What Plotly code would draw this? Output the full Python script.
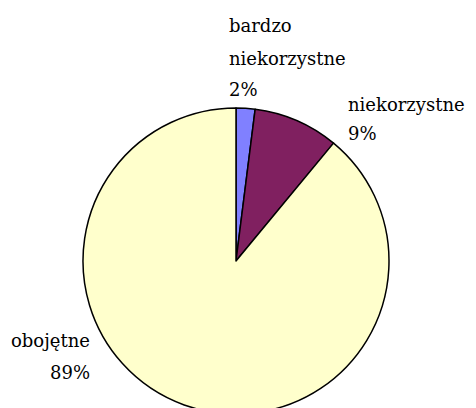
import plotly.graph_objects as go

# data
labels = ["bardzo niekorzystne", "niekorzystne", "obojętne"]
values = [2, 9, 89]
colors = ["#8080FF", "#802060", "#FFFFCC"]

W, H = 476, 408
OFF = 8  # page body margin
total = sum(values)
pct = [f"{v / total * 100:.0f}%" for v in values]

fig = go.Figure(go.Pie(
    labels=labels,
    values=values,
    sort=False,
    direction="clockwise",
    rotation=0,
    textinfo="none",
    hoverinfo="label+percent",
    marker=dict(colors=colors, line=dict(color="black", width=1.5)),
    domain=dict(x=[(83 - OFF) / W, (389 - OFF) / W],
                y=[1 - (414 - OFF) / H, 1 - (108 - OFF) / H]),
    showlegend=False,
))

# label placement: (lines, x px, line centres px, anchor)
label_lines = [
    (["bardzo", "niekorzystne", pct[0]], 227, [26, 58, 90], "left"),
    (["niekorzystne", pct[1]], 346, [104, 133], "left"),
    (["obojętne", pct[2]], 92, [340, 372], "right"),
]

for lines, x, ys, anchor in label_lines:
    for txt, y in zip(lines, ys):
        fig.add_annotation(
            text=txt, x=(x - OFF) / W, y=1 - (y - OFF) / H,
            xref="paper", yref="paper",
            xanchor=anchor, yanchor="middle", showarrow=False,
            font=dict(family="DejaVu Serif", size=18, color="black"),
        )

fig.update_layout(
    width=W, height=H,
    margin=dict(l=0, r=0, t=0, b=0),
    paper_bgcolor="white",
    plot_bgcolor="white",
)

fig.write_html("out.html")
